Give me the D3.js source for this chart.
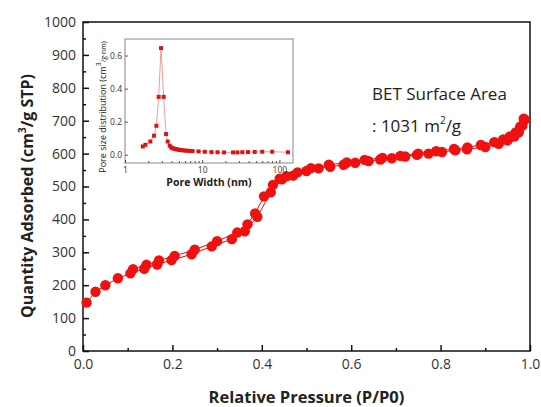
<!DOCTYPE html>
<html>
<head>
<meta charset="utf-8">
<script src="https://cdn.jsdelivr.net/npm/d3@7"></script>
<style>
  body { margin: 0; background: #fff; }
  text { font-family: "Open Sans", sans-serif; }
</style>
</head>
<body>
<div class="chart"></div>
<script>
// isotherm data (P/P0, cm3/g STP)
var adsP = [0.008, 0.028, 0.05, 0.078, 0.106, 0.137, 0.166, 0.198, 0.243, 0.288, 0.333, 0.362, 0.39, 0.42, 0.445, 0.47, 0.5, 0.527, 0.553, 0.583, 0.609, 0.639, 0.665, 0.691, 0.721, 0.747, 0.773, 0.803, 0.833, 0.859, 0.9, 0.93, 0.95, 0.965, 0.975, 0.983, 0.988];
var adsQ = [147, 180, 200, 221, 236, 250, 263, 276, 294, 318, 340, 364, 408, 482, 522, 533, 547, 555, 560, 566, 572, 577, 582, 586, 591, 596, 600, 605, 610, 613, 620, 630, 640, 652, 665, 685, 703];
var desP = [0.986, 0.978, 0.968, 0.955, 0.94, 0.92, 0.89, 0.86, 0.83, 0.79, 0.75, 0.71, 0.67, 0.63, 0.59, 0.55, 0.51, 0.48, 0.455, 0.44, 0.425, 0.405, 0.385, 0.368, 0.345, 0.3, 0.25, 0.205, 0.17, 0.142, 0.112];
var desQ = [706, 682, 664, 652, 643, 635, 626, 619, 614, 607, 600, 593, 587, 581, 573, 566, 556, 543, 531, 524, 505, 470, 418, 385, 360, 334, 308, 289, 275, 262, 249];

// pore size distribution (nm, cm3/g.nm)
var poreW = [1.70, 1.84, 2.13, 2.38, 2.55, 2.73, 2.93, 3.17, 3.40, 3.57, 3.79, 3.95, 4.1, 4.3, 4.5, 4.75, 5.0, 5.3, 5.6, 6.0, 6.4, 6.9, 7.5, 8.97, 10.8, 13.2, 15.8, 19.2, 25.1, 28.6, 33.1, 39.2, 47.9, 60, 80.7, 129];
var poreV = [0.05, 0.06, 0.08, 0.115, 0.175, 0.35, 0.645, 0.35, 0.125, 0.08, 0.055, 0.045, 0.04, 0.037, 0.034, 0.032, 0.03, 0.028, 0.027, 0.025, 0.024, 0.023, 0.022, 0.02, 0.018, 0.016, 0.015, 0.014, 0.014, 0.014, 0.015, 0.016, 0.017, 0.018, 0.018, 0.015];

var xTicks = [0, 0.2, 0.4, 0.6, 0.8, 1.0];
var xMinor = [0.1, 0.3, 0.5, 0.7, 0.9];
var yTicks = [0, 100, 200, 300, 400, 500, 600, 700, 800, 900, 1000];
var yMinor = [50, 150, 250, 350, 450, 550, 650, 750, 850, 950];
var insetYTicks = [0, 0.2, 0.4, 0.6];
var insetXTicks = [1, 10, 100];

var svgWidth = 541, svgHeight = 407;
var margin = { top: 22, right: 11, bottom: 56, left: 83 };
var width = svgWidth - margin.left - margin.right;
var height = svgHeight - margin.top - margin.bottom;

var svg = d3.select(".chart").append("svg")
  .attr("width", svgWidth)
  .attr("height", svgHeight);

var chartGroup = svg.append("g")
  .attr("transform", `translate(${margin.left}, ${margin.top})`);

var xScale = d3.scaleLinear().domain([0, 1]).range([0, width]);
var yScale = d3.scaleLinear().domain([0, 1000]).range([height, 0]);

// axes, ticks pointing inward
chartGroup.append("g")
  .attr("transform", `translate(0, ${height})`)
  .call(d3.axisBottom(xScale).tickValues(xTicks).tickFormat(d3.format(".1f"))
    .tickSizeInner(-6).tickSizeOuter(0).tickPadding(8));
chartGroup.append("g")
  .attr("transform", `translate(0, ${height})`)
  .call(d3.axisBottom(xScale).tickValues(xMinor).tickFormat("")
    .tickSizeInner(-3).tickSizeOuter(0));
chartGroup.append("g")
  .call(d3.axisLeft(yScale).tickValues(yTicks).tickFormat(d3.format("d"))
    .tickSizeInner(-6).tickSizeOuter(0).tickPadding(7));
chartGroup.append("g")
  .call(d3.axisLeft(yScale).tickValues(yMinor).tickFormat("")
    .tickSizeInner(-3).tickSizeOuter(0));

chartGroup.selectAll(".domain").remove();
chartGroup.selectAll(".tick line").attr("stroke", "#111").attr("stroke-width", 1.5);
chartGroup.selectAll(".tick text").attr("font-size", "14px").attr("fill", "#333")
  .attr("font-family", "Open Sans, sans-serif");

// frame
chartGroup.append("rect")
  .attr("width", width).attr("height", height)
  .attr("fill", "none").attr("stroke", "#111").attr("stroke-width", 1.5);

// axis titles
svg.append("text")
  .attr("x", margin.left + width / 2).attr("y", 403)
  .attr("text-anchor", "middle")
  .attr("font-size", "16.5px").attr("font-weight", "bold").attr("fill", "#222")
  .text("Relative Pressure (P/P0)");

var yTitle = svg.append("text")
  .attr("transform", "translate(33, 196) rotate(-90)")
  .attr("text-anchor", "middle")
  .attr("font-size", "16px").attr("font-weight", "bold").attr("fill", "#222");
yTitle.append("tspan").text("Quantity Adsorbed (cm");
yTitle.append("tspan").attr("font-size", "10px").attr("dy", -7).text("3");
yTitle.append("tspan").attr("dy", 7).text("/g STP)");

// isotherm lines and markers
var ads = adsP.map((p, i) => ({ p: p, q: adsQ[i] }));
var des = desP.map((p, i) => ({ p: p, q: desQ[i] }));
var line = d3.line().x(d => xScale(d.p)).y(d => yScale(d.q));

[ads, des].forEach(function(series) {
  chartGroup.append("path")
    .datum(series)
    .attr("d", line)
    .attr("fill", "none")
    .attr("stroke", "#e21010")
    .attr("stroke-width", 1);
  chartGroup.selectAll(null)
    .data(series)
    .enter()
    .append("circle")
    .attr("cx", d => xScale(d.p))
    .attr("cy", d => yScale(d.q))
    .attr("r", 5.2)
    .attr("fill", "#f01010");
});

// BET annotation
svg.append("text")
  .attr("x", 372).attr("y", 100)
  .attr("font-size", "17px").attr("fill", "#222")
  .text("BET Surface Area");
var bet = svg.append("text")
  .attr("x", 372).attr("y", 132)
  .attr("font-size", "17px").attr("fill", "#222");
bet.append("tspan").text(": 1031 m");
bet.append("tspan").attr("font-size", "10px").attr("dy", -8).text("2");
bet.append("tspan").attr("dy", 8).text("/g");

// inset: pore size distribution
var inset = { left: 125, top: 39, right: 293, bottom: 163 };
var insetGroup = svg.append("g");

insetGroup.append("rect")
  .attr("x", inset.left).attr("y", inset.top)
  .attr("width", inset.right - inset.left).attr("height", inset.bottom - inset.top)
  .attr("fill", "#fff").attr("stroke", "#888").attr("stroke-width", 1);

var ix = d3.scaleLog().domain([1, 150]).range([inset.left, inset.right]);
var iy = d3.scaleLinear().domain([-0.05, 0.7]).range([inset.bottom, inset.top]);

insetGroup.append("g")
  .attr("transform", `translate(0, ${inset.bottom})`)
  .call(d3.axisBottom(ix).tickValues(insetXTicks).tickFormat(d3.format("d"))
    .tickSizeInner(-3).tickSizeOuter(0).tickPadding(4));
insetGroup.append("g")
  .attr("transform", `translate(0, ${inset.bottom})`)
  .call(d3.axisBottom(ix).tickValues(ix.ticks().filter(t => insetXTicks.indexOf(t) < 0)).tickFormat("")
    .tickSizeInner(-2).tickSizeOuter(0));
insetGroup.append("g")
  .attr("transform", `translate(${inset.left}, 0)`)
  .call(d3.axisLeft(iy).tickValues(insetYTicks).tickFormat(d3.format(".1f"))
    .tickSizeInner(-3).tickSizeOuter(0).tickPadding(3));
insetGroup.selectAll(".domain").remove();
insetGroup.selectAll(".tick line").attr("stroke", "#555");
insetGroup.selectAll(".tick text").attr("font-size", "8.5px").attr("fill", "#333")
  .attr("font-family", "Open Sans, sans-serif");

var pores = poreW.map((w, i) => ({ w: w, v: poreV[i] }));
insetGroup.append("path")
  .datum(pores)
  .attr("d", d3.line().x(d => ix(d.w)).y(d => iy(d.v)))
  .attr("fill", "none")
  .attr("stroke", "#e8a0a0")
  .attr("stroke-width", 1);
insetGroup.selectAll(null)
  .data(pores)
  .enter()
  .append("rect")
  .attr("x", d => ix(d.w) - 2)
  .attr("y", d => iy(d.v) - 2)
  .attr("width", 4).attr("height", 4)
  .attr("fill", "#d81414");

insetGroup.append("text")
  .attr("x", (inset.left + inset.right) / 2).attr("y", 186)
  .attr("text-anchor", "middle")
  .attr("font-size", "10.5px").attr("font-weight", "bold").attr("fill", "#222")
  .text("Pore Width (nm)");

var iyTitle = insetGroup.append("text")
  .attr("transform", "translate(106, 107) rotate(-90)")
  .attr("text-anchor", "middle")
  .attr("font-size", "9px").attr("fill", "#222");
iyTitle.append("tspan").text("Pore size distribution (cm");
iyTitle.append("tspan").attr("font-size", "7px").attr("dy", -5).text("3");
iyTitle.append("tspan").attr("font-size", "7px").attr("dy", 5).text("/g·nm)");
</script>
</body>
</html>
